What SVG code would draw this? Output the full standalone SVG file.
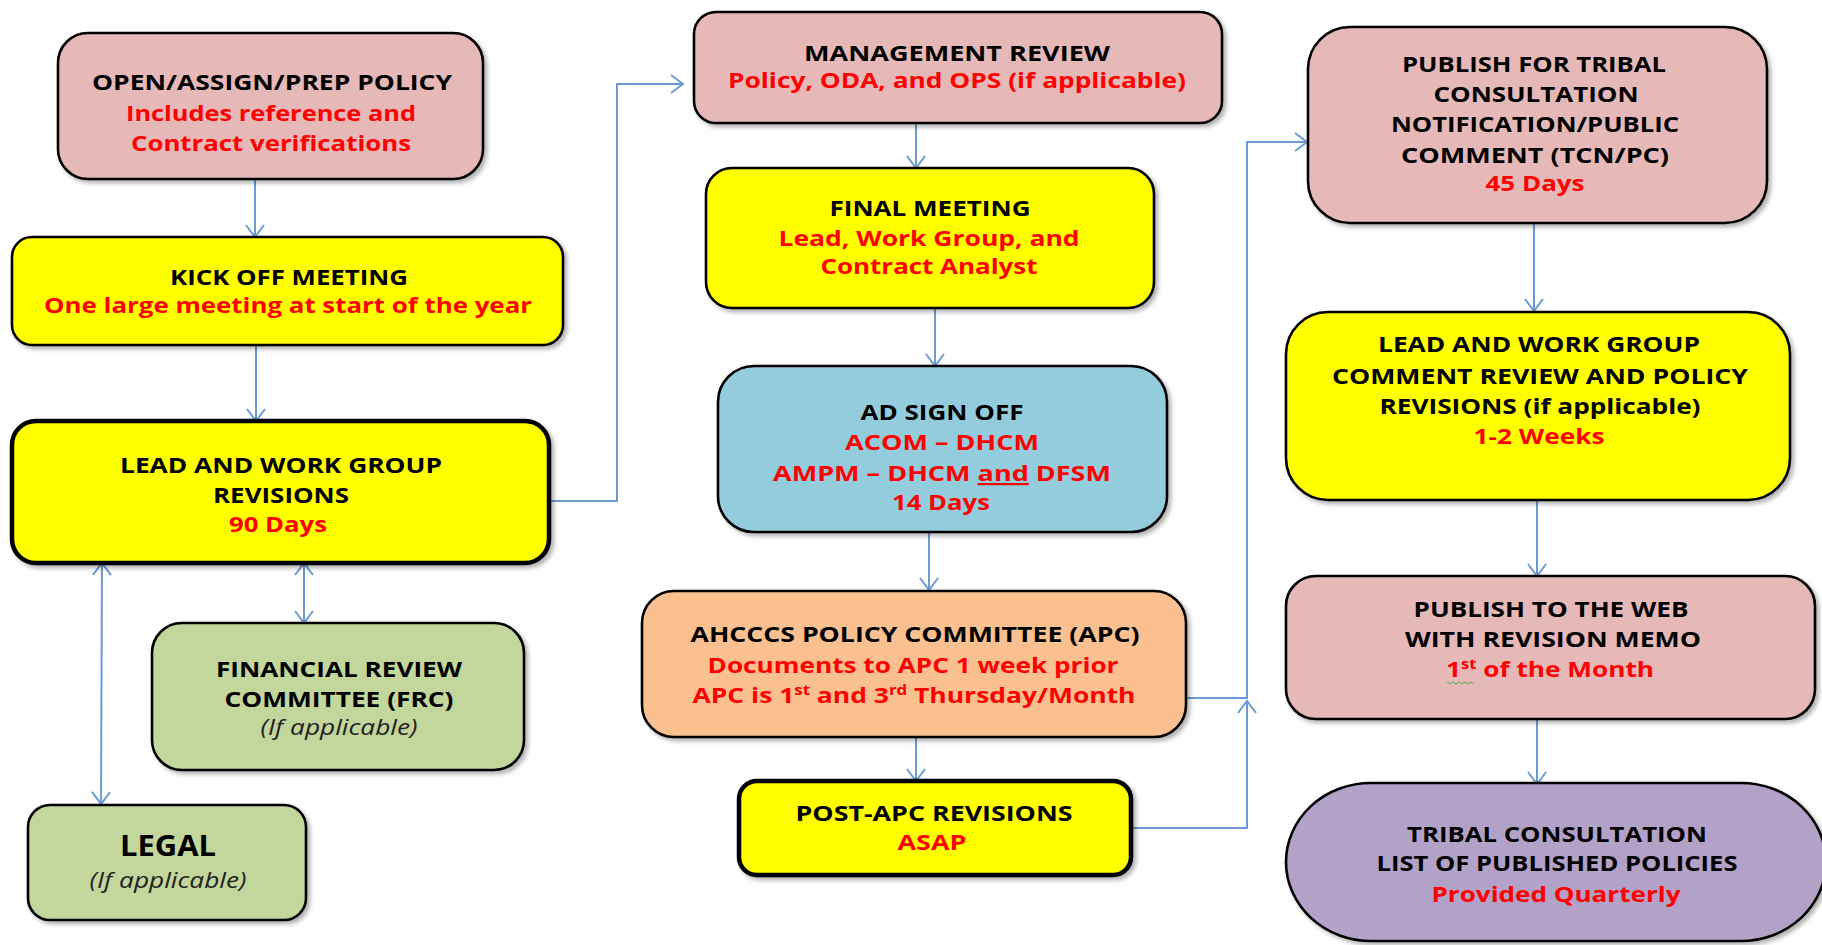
<svg xmlns="http://www.w3.org/2000/svg" width="1822" height="945" viewBox="0 0 1822 945">
<style>
.box{stroke:#000;stroke-width:2.6;filter:url(#sh)}
.thick{stroke-width:4.5}
.pink{fill:#E6B9B8}.yel{fill:#FFFF00}.grn{fill:#C3D69B}.blu{fill:#93CDDD}.org{fill:#FAC090}.pur{fill:#B3A2C7}
text{font-family:'Open Sans','Liberation Sans',sans-serif;font-weight:700;font-size:22px;fill:#000;text-anchor:middle}
.r{fill:#FF0000}
.i{font-weight:400;font-style:italic;fill:#222}
.c{fill:none;stroke:#6C9BD2;stroke-width:2}
</style>
<defs>
<filter id="sh" x="-10%" y="-10%" width="125%" height="130%">
<feDropShadow dx="3" dy="3" stdDeviation="2" flood-color="#000" flood-opacity="0.3"/>
</filter>
<marker id="ar" markerUnits="userSpaceOnUse" markerWidth="16" markerHeight="22" refX="13" refY="10" orient="auto-start-reverse">
<path d="M1,1 L13,10 L1,19" fill="none" stroke="#6C9BD2" stroke-width="2"/>
</marker>
</defs>

<g id="connectors">
<path class="c" d="M255,179 L255,237" marker-end="url(#ar)"/>
<path class="c" d="M256,345 L256,421" marker-end="url(#ar)"/>
<path class="c" d="M304,563 L304,623" marker-start="url(#ar)" marker-end="url(#ar)"/>
<path class="c" d="M102,563 L101,804" marker-start="url(#ar)" marker-end="url(#ar)"/>
<path class="c" d="M550,501 L617,501 L617,84 L683,84" marker-end="url(#ar)"/>
<path class="c" d="M916,123 L916,168" marker-end="url(#ar)"/>
<path class="c" d="M935,308 L935,366" marker-end="url(#ar)"/>
<path class="c" d="M929,532 L929,590" marker-end="url(#ar)"/>
<path class="c" d="M916,737 L916,781" marker-end="url(#ar)"/>
<path class="c" d="M1186,698 L1247,698 L1247,142 L1307,142" marker-end="url(#ar)"/>
<path class="c" d="M1131,828 L1247,828 L1247,701" marker-end="url(#ar)"/>
<path class="c" d="M1534,223 L1534,311" marker-end="url(#ar)"/>
<path class="c" d="M1537,500 L1537,576" marker-end="url(#ar)"/>
<path class="c" d="M1537,719 L1537,784" marker-end="url(#ar)"/>
</g>

<g id="open-assign">
<rect class="box pink" x="58" y="33" width="425" height="146" rx="30"/>
<text x="272" y="90" textLength="360" lengthAdjust="spacingAndGlyphs">OPEN/ASSIGN/PREP POLICY</text>
<text class="r" x="271" y="121" textLength="290" lengthAdjust="spacingAndGlyphs">Includes reference and</text>
<text class="r" x="271" y="151" textLength="280" lengthAdjust="spacingAndGlyphs">Contract verifications</text>
</g>

<g id="kick-off">
<rect class="box yel" x="12" y="237" width="551" height="108" rx="20"/>
<text x="289" y="285" textLength="238" lengthAdjust="spacingAndGlyphs">KICK OFF MEETING</text>
<text class="r" x="288" y="313" textLength="488" lengthAdjust="spacingAndGlyphs">One large meeting at start of the year</text>
</g>

<g id="lead-revisions">
<rect class="box yel thick" x="12" y="421" width="537" height="142" rx="24"/>
<text x="281" y="473" textLength="322" lengthAdjust="spacingAndGlyphs">LEAD AND WORK GROUP</text>
<text x="281" y="503" textLength="136" lengthAdjust="spacingAndGlyphs">REVISIONS</text>
<text class="r" x="278" y="532" textLength="98" lengthAdjust="spacingAndGlyphs">90 Days</text>
</g>

<g id="frc">
<rect class="box grn" x="152" y="623" width="372" height="147" rx="30"/>
<text x="339" y="677" textLength="246" lengthAdjust="spacingAndGlyphs">FINANCIAL REVIEW</text>
<text x="339" y="707" textLength="229" lengthAdjust="spacingAndGlyphs">COMMITTEE (FRC)</text>
<text class="i" x="339" y="735" textLength="157" lengthAdjust="spacingAndGlyphs">(If applicable)</text>
</g>

<g id="legal">
<rect class="box grn" x="28" y="805" width="278" height="115" rx="22"/>
<text x="168" y="856" style="font-size:28px" textLength="96" lengthAdjust="spacingAndGlyphs">LEGAL</text>
<text class="i" x="168" y="888" textLength="157" lengthAdjust="spacingAndGlyphs">(If applicable)</text>
</g>

<g id="management-review">
<rect class="box pink" x="694" y="12" width="528" height="111" rx="22"/>
<text x="957" y="61" textLength="306" lengthAdjust="spacingAndGlyphs">MANAGEMENT REVIEW</text>
<text class="r" x="957" y="88" textLength="458" lengthAdjust="spacingAndGlyphs">Policy, ODA, and OPS (if applicable)</text>
</g>

<g id="final-meeting">
<rect class="box yel" x="706" y="168" width="448" height="140" rx="26"/>
<text x="930" y="216" textLength="201" lengthAdjust="spacingAndGlyphs">FINAL MEETING</text>
<text class="r" x="929" y="246" textLength="301" lengthAdjust="spacingAndGlyphs">Lead, Work Group, and</text>
<text class="r" x="929" y="274" textLength="217" lengthAdjust="spacingAndGlyphs">Contract Analyst</text>
</g>

<g id="ad-sign-off">
<rect class="box blu" x="718" y="366" width="449" height="166" rx="36"/>
<text x="942" y="420" textLength="163" lengthAdjust="spacingAndGlyphs">AD SIGN OFF</text>
<text class="r" x="942" y="450" textLength="194" lengthAdjust="spacingAndGlyphs">ACOM – DHCM</text>
<text class="r" x="942" y="481" textLength="338" lengthAdjust="spacingAndGlyphs">AMPM – DHCM <tspan text-decoration="underline">and</tspan> DFSM</text>
<text class="r" x="941" y="510" textLength="98" lengthAdjust="spacingAndGlyphs">14 Days</text>
</g>

<g id="apc">
<rect class="box org" x="642" y="591" width="544" height="146" rx="32"/>
<text x="915" y="642" textLength="449" lengthAdjust="spacingAndGlyphs">AHCCCS POLICY COMMITTEE (APC)</text>
<text class="r" x="913" y="673" textLength="411" lengthAdjust="spacingAndGlyphs">Documents to APC 1 week prior</text>
<text class="r" x="914" y="703" textLength="443" lengthAdjust="spacingAndGlyphs">APC is 1<tspan dy="-8" style="font-size:14px">st</tspan><tspan dy="8"> and 3</tspan><tspan dy="-8" style="font-size:14px">rd</tspan><tspan dy="8"> Thursday/Month</tspan></text>
</g>

<g id="post-apc">
<rect class="box yel thick" x="739" y="781" width="392" height="94" rx="18"/>
<text x="934" y="821" textLength="277" lengthAdjust="spacingAndGlyphs">POST-APC REVISIONS</text>
<text class="r" x="932" y="850" textLength="69" lengthAdjust="spacingAndGlyphs">ASAP</text>
</g>

<g id="publish-tcn">
<rect class="box pink" x="1308" y="27" width="459" height="196" rx="42"/>
<text x="1534" y="72" textLength="264" lengthAdjust="spacingAndGlyphs">PUBLISH FOR TRIBAL</text>
<text x="1536" y="102" textLength="205" lengthAdjust="spacingAndGlyphs">CONSULTATION</text>
<text x="1535" y="132" textLength="288" lengthAdjust="spacingAndGlyphs">NOTIFICATION/PUBLIC</text>
<text x="1535" y="163" textLength="268" lengthAdjust="spacingAndGlyphs">COMMENT (TCN/PC)</text>
<text class="r" x="1535" y="191" textLength="99" lengthAdjust="spacingAndGlyphs">45 Days</text>
</g>

<g id="comment-review">
<rect class="box yel" x="1286" y="312" width="504" height="188" rx="42"/>
<text x="1539" y="352" textLength="322" lengthAdjust="spacingAndGlyphs">LEAD AND WORK GROUP</text>
<text x="1540" y="384" textLength="416" lengthAdjust="spacingAndGlyphs">COMMENT REVIEW AND POLICY</text>
<text x="1540" y="414" textLength="321" lengthAdjust="spacingAndGlyphs">REVISIONS (if applicable)</text>
<text class="r" x="1539" y="444" textLength="131" lengthAdjust="spacingAndGlyphs">1-2 Weeks</text>
</g>

<g id="publish-web">
<rect class="box pink" x="1286" y="576" width="529" height="143" rx="30"/>
<text x="1551" y="617" textLength="275" lengthAdjust="spacingAndGlyphs">PUBLISH TO THE WEB</text>
<text x="1553" y="647" textLength="296" lengthAdjust="spacingAndGlyphs">WITH REVISION MEMO</text>
<text class="r" x="1550" y="677" textLength="208" lengthAdjust="spacingAndGlyphs">1<tspan dy="-8" style="font-size:14px">st</tspan><tspan dy="8"> of the Month</tspan></text>
<path d="M1447,682 l3,2 l3,-2 l3,2 l3,-2 l3,2 l3,-2 l3,2 l3,-2 l3,2" fill="none" stroke="#4CAF50" stroke-width="1"/>
</g>

<g id="tribal-list">
<rect class="box pur" x="1286" y="783" width="540" height="158" rx="85" ry="79"/>
<text x="1557" y="842" textLength="300" lengthAdjust="spacingAndGlyphs">TRIBAL CONSULTATION</text>
<text x="1557" y="871" textLength="361" lengthAdjust="spacingAndGlyphs">LIST OF PUBLISHED POLICIES</text>
<text class="r" x="1556" y="902" textLength="249" lengthAdjust="spacingAndGlyphs">Provided Quarterly</text>
</g>
</svg>
